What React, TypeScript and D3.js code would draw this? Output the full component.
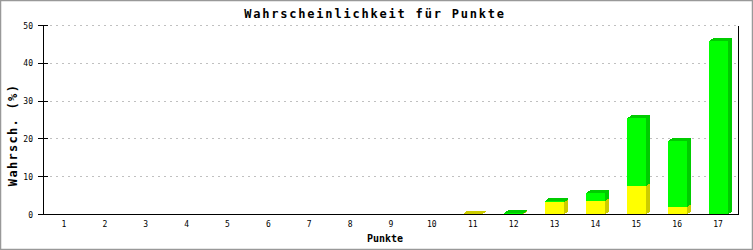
import React from "react";
import * as d3 from "d3";

const categories = ["1","2","3","4","5","6","7","8","9","10","11","12","13","14","15","16","17"];
const yellowValues = [0,0,0,0,0,0,0,0,0,0,0.1,0.2,3.2,3.5,7.5,1.9,0];
const greenValues = [0,0,0,0,0,0,0,0,0,0,0,0.1,0.4,2.1,17.9,17.5,45.8];
const yTicks = [0,10,20,30,40,50];
const title = "Wahrscheinlichkeit für Punkte";
const xTitle = "Punkte";
const yTitle = "Wahrsch. (%)";

const W = 753, H = 250;
const left = 43.5, right = 738.5, top = 25.5, bottom = 214.5;
const DX = 4, DY = 3, BW = 19;

const seriesColors = [
  { front: "#ffff00", dark: "#cccc00" },
  { front: "#00ff00", dark: "#00cc00" },
];

export default function App() {
  const x = d3.scaleBand<string>().domain(categories).range([left, right]).padding(0);
  const y = d3.scaleLinear().domain([0, 50]).range([bottom, top]);
  const mono = "'DejaVu Sans Mono', monospace";

  const rows = categories.map((c, i) => ({ c, yellow: yellowValues[i], green: greenValues[i] }));
  const stack = d3.stack<any>().keys(["yellow", "green"])(rows);

  const bars: React.ReactNode[] = [];
  categories.forEach((c, i) => {
    const cx = (x(c) as number) + x.bandwidth() / 2;
    const x0 = Math.round(cx - BW / 2);
    const x1 = x0 + BW;
    let topIdx = -1;
    stack.forEach((s, k) => { if (s[i][1] - s[i][0] > 0) topIdx = k; });
    stack.forEach((s, k) => {
      const v0 = s[i][0], v1 = s[i][1];
      if (v1 - v0 <= 0) return;
      const yb = y(v0), yt = y(v1);
      const col = seriesColors[k];
      bars.push(
        <g key={`${c}-${k}`} shapeRendering="crispEdges">
          <polygon
            points={`${x1},${yt} ${x1 + DX},${yt - DY} ${x1 + DX},${yb - DY} ${x1},${yb}`}
            fill={col.dark}
          />
          {k === topIdx && (
            <polygon
              points={`${x0},${yt} ${x0 + DX},${yt - DY} ${x1 + DX},${yt - DY} ${x1},${yt}`}
              fill={col.dark}
            />
          )}
          <rect x={x0} y={yt} width={BW} height={Math.max(0, yb - yt)} fill={col.front} />
        </g>
      );
    });
  });

  return (
    <div style={{ position: "absolute", left: 0, top: 0 }}>
      <svg width={W} height={H} style={{ display: "block", background: "#fff" }}>
        <rect x={0.5} y={0.5} width={W - 1} height={H - 1} fill="#fff" stroke="#999" strokeWidth={1.5} />
        {yTicks.filter(t => t > 0).map(t => (
          <line key={t} x1={left} x2={right} y1={Math.floor(y(t)) + 0.5} y2={Math.floor(y(t)) + 0.5}
            stroke="#c0c0c0" strokeWidth={1} strokeDasharray="2,4" shapeRendering="crispEdges" />
        ))}
        {bars}
        <line x1={left} x2={left} y1={top} y2={bottom} stroke="#000" strokeWidth={1} shapeRendering="crispEdges" />
        <line x1={right} x2={right} y1={top} y2={bottom} stroke="#000" strokeWidth={1} shapeRendering="crispEdges" />
        <line x1={left} x2={right} y1={bottom} y2={bottom} stroke="#000" strokeWidth={1} shapeRendering="crispEdges" />
        {yTicks.map(t => (
          <g key={t}>
            <line x1={38} x2={48} y1={Math.floor(y(t)) + 0.5} y2={Math.floor(y(t)) + 0.5} stroke="#000" strokeWidth={1} shapeRendering="crispEdges" />
            <text x={33} y={y(t) + 3} textAnchor="end" fontFamily={mono} fontSize={8} fill="#000">{t}</text>
          </g>
        ))}
        {categories.map(c => (
          <text key={c} x={(x(c) as number) + x.bandwidth() / 2} y={226.5} textAnchor="middle"
            fontFamily={mono} fontSize={8} fill="#000">{c}</text>
        ))}
        <text x={375} y={18} textAnchor="middle" fontFamily={mono} fontSize={12} fontWeight="bold"
          letterSpacing={1.8} fill="#000">{title}</text>
        <text x={385} y={242} textAnchor="middle" fontFamily={mono} fontSize={10} fontWeight="bold"
          fill="#000">{xTitle}</text>
        <text transform={`translate(17,135) rotate(-90)`} textAnchor="middle" fontFamily={mono} fontSize={12}
          fontWeight="bold" letterSpacing={1.3} fill="#000">{yTitle}</text>
      </svg>
    </div>
  );
}
